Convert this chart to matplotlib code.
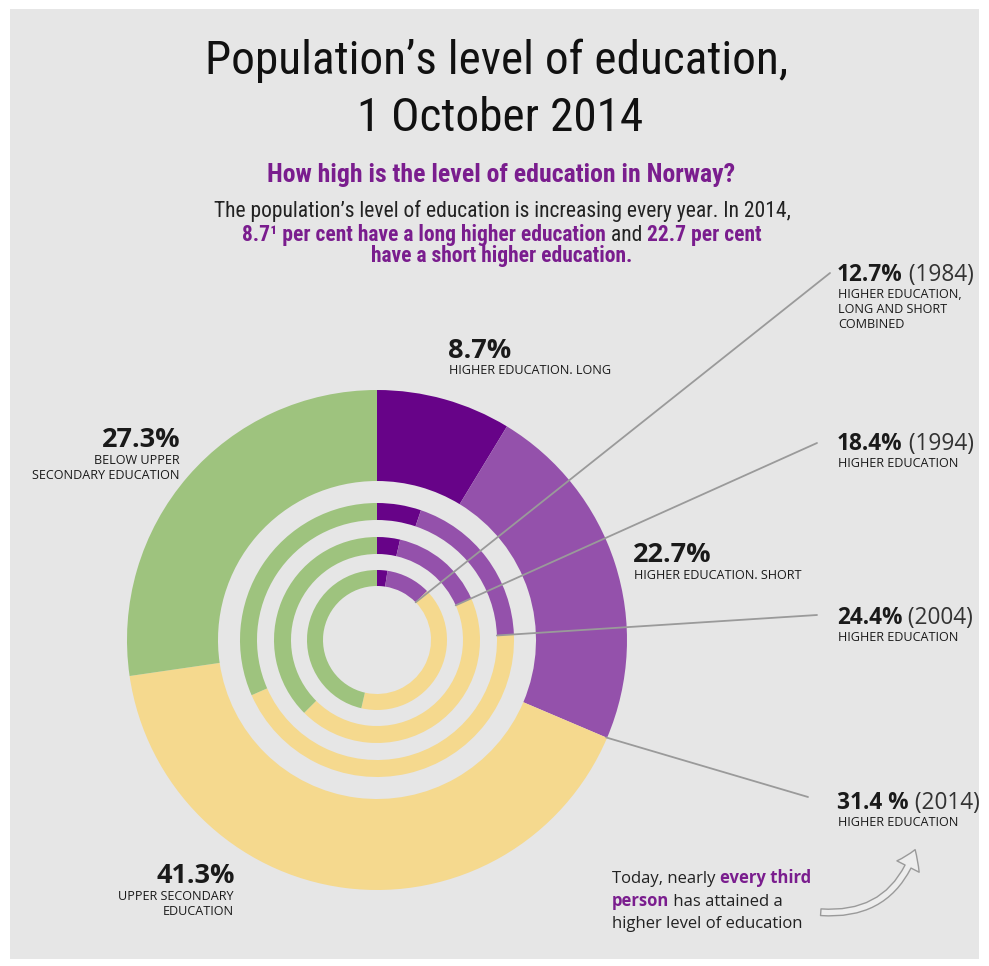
import matplotlib
matplotlib.use('Agg')
import numpy as np
import matplotlib.pyplot as plt
from matplotlib import font_manager
from matplotlib.patches import Rectangle, FancyArrowPatch

# education level by year (per cent of population), innermost ring first
years = [1984, 1994, 2004, 2014]
higher_long = [2.4, 3.6, 5.2, 8.7]
higher_short = [10.3, 14.8, 19.2, 22.7]
upper_secondary = [40.9, 44.1, 44.0, 41.3]
below_upper = [46.4, 37.5, 31.6, 27.3]

colors = ['#670388', '#9451ab', '#f5d98e', '#9ec37e']
BG = '#e6e6e6'
PURPLE = '#7a1d8e'
W, H = 989, 966

names = {f.name for f in font_manager.fontManager.ttflist}
COND = next((n for n in ['Liberation Sans Narrow', 'Roboto Condensed',
                         'Open Sans Condensed', 'DejaVu Sans Condensed']
             if n in names), 'DejaVu Sans')
SANS = 'Open Sans' if 'Open Sans' in names else 'DejaVu Sans'

fig = plt.figure(figsize=(W / 100, H / 100), dpi=100, facecolor='white')
ax = fig.add_axes([0, 0, 1, 1])
renderer = fig.canvas.get_renderer()


def Y(y):
    return H - y


def width_of(s, **kw):
    # measure with a sentinel so that spaces count
    t1 = ax.text(0, 0, s + '|', **kw)
    t2 = ax.text(0, 0, '|', **kw)
    w = t1.get_window_extent(renderer).width - t2.get_window_extent(renderer).width
    t1.remove()
    t2.remove()
    return w


def rich_line(x, y, parts, ha='center', **common):
    ws = [width_of(s, color=c, fontweight=fw, **common) for s, c, fw in parts]
    total = sum(ws)
    x0 = x - total / 2 if ha == 'center' else x
    for (s, c, fw), w in zip(parts, ws):
        ax.text(x0, Y(y), s, color=c, fontweight=fw, ha='left', va='baseline', **common)
        x0 += w


ax.add_patch(Rectangle((10, Y(959)), 969, 950, facecolor=BG, edgecolor='none', zorder=0))

# rings
cx, cy = 377, 640
radii = [70, 103, 137, 250]
widths = [16, 17, 17, 91]
for i in range(len(years)):
    vals = [higher_long[i], higher_short[i], upper_secondary[i], below_upper[i]]
    ax.pie(vals, radius=radii[i], center=(cx, Y(cy)), startangle=90, counterclock=False,
           colors=colors, wedgeprops=dict(width=widths[i], linewidth=0))

ax.set_xlim(0, W)
ax.set_ylim(0, H)
ax.set_aspect('auto')
ax.axis('off')

# titles
title_kw = dict(family=COND, fontstretch='condensed', ha='center', va='baseline', color='#111111')
ax.text(497, Y(74), 'Population’s level of education,', fontsize=34, **title_kw)
ax.text(500, Y(131), '1 October 2014', fontsize=34, **title_kw)
ax.text(501, Y(182), 'How high is the level of education in Norway?', fontsize=18.5,
        family=COND, fontstretch='condensed', fontweight='bold', ha='center',
        va='baseline', color=PURPLE)

body = dict(family=COND, fontstretch='condensed', fontsize=15.5)
rich_line(502, 217, [('The population’s level of education is increasing every year. In 2014,',
                      '#222222', 'normal')], **body)
rich_line(502, 241, [('8.7¹ per cent have a long higher education', PURPLE, 'bold'),
                     (' and ', '#222222', 'normal'),
                     ('22.7 per cent', PURPLE, 'bold')], **body)
rich_line(502, 262, [('have a short higher education.', PURPLE, 'bold')], **body)

# leader lines from each ring's end of higher education
line_start_r = [54, 86, 120, 249]
line_end = [(830, 273), (817, 443), (817, 615), (808, 797)]
for i in range(len(years)):
    share = higher_long[i] + higher_short[i]
    ang = np.deg2rad(90 - 360 * share / 100)
    x0 = cx + line_start_r[i] * np.cos(ang)
    y0 = Y(cy) + line_start_r[i] * np.sin(ang)
    ax.plot([x0, line_end[i][0]], [y0, Y(line_end[i][1])], color='#9a9a9a', lw=1.3,
            solid_capstyle='round', zorder=5)

# right-hand labels
sub_r = [['HIGHER EDUCATION,', 'LONG AND SHORT', 'COMBINED'],
         ['HIGHER EDUCATION'], ['HIGHER EDUCATION'], ['HIGHER EDUCATION']]
label_y = [281, 450, 624, 809]
lab = dict(family=SANS, fontsize=16.3)
for i in range(len(years)):
    share = higher_long[i] + higher_short[i]
    pct = f'{share:.1f}%' if years[i] != 2014 else f'{share:.1f} %'
    rich_line(837, label_y[i], [(pct, '#1a1a1a', 'bold'), (f' ({years[i]})', '#333333', 'normal')],
              ha='left', **lab)
    for k, s in enumerate(sub_r[i]):
        ax.text(838, Y(label_y[i] + 17 + 15 * k), s, family=SANS, fontsize=9.1,
                color='#1a1a1a', ha='left', va='baseline')

# 2014 category labels
big = dict(family=SANS, fontsize=19.5, fontweight='bold', color='#1a1a1a', va='baseline')
small = dict(family=SANS, fontsize=9.1, color='#1a1a1a', va='baseline')
ax.text(448, Y(358), f'{higher_long[3]}%', ha='left', **big)
ax.text(449, Y(374), 'HIGHER EDUCATION. LONG', ha='left', **small)
ax.text(633, Y(562), f'{higher_short[3]}%', ha='left', **big)
ax.text(634, Y(579), 'HIGHER EDUCATION. SHORT', ha='left', **small)
ax.text(181, Y(447), f'{below_upper[3]}%', ha='right', **big)
ax.text(180, Y(464), 'BELOW UPPER', ha='right', **small)
ax.text(180, Y(479), 'SECONDARY EDUCATION', ha='right', **small)
ax.text(235, Y(883), f'{upper_secondary[3]}%', ha='right', **big)
ax.text(234, Y(900), 'UPPER SECONDARY', ha='right', **small)
ax.text(234, Y(915), 'EDUCATION', ha='right', **small)

# bottom note
note = dict(family=SANS, fontsize=12)
rich_line(612, 883, [('Today, nearly ', '#222222', 'normal'), ('every third', PURPLE, 'bold')],
          ha='left', **note)
rich_line(612, 906, [('person', PURPLE, 'bold'), (' has attained a', '#222222', 'normal')],
          ha='left', **note)
rich_line(612, 928, [('higher level of education', '#222222', 'normal')], ha='left', **note)

arrow = FancyArrowPatch((818, Y(912)), (916, Y(847)),
                        arrowstyle='simple,head_length=1.1,head_width=1.5,tail_width=0.4',
                        connectionstyle='arc3,rad=0.4', mutation_scale=12,
                        facecolor='#ededed', edgecolor='#9a9a9a', lw=1, zorder=5)
ax.add_patch(arrow)

fig.savefig('out.png', dpi=100, facecolor='white')
